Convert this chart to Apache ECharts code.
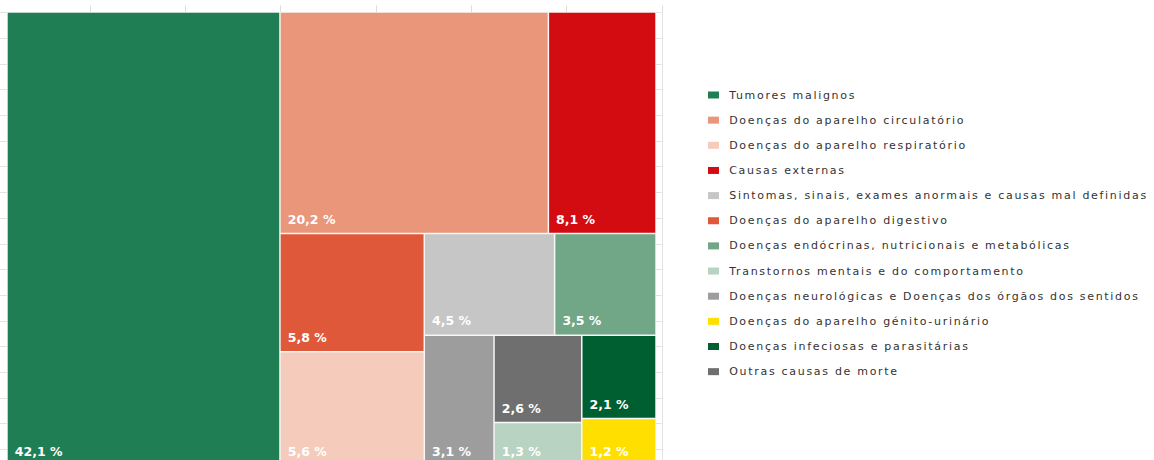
<!DOCTYPE html>
<html>
<head>
<meta charset="utf-8">
<script src="https://cdn.jsdelivr.net/npm/echarts@6/dist/echarts.min.js"></script>
<style>
html, body { margin: 0; padding: 0; background: #ffffff; }
#chart { width: 1154px; height: 460px; }
#chart text[fill="#333333"], #chart text[fill="#333"], #chart text[fill="rgb(51,51,51)"] { letter-spacing: 1.7px; }
</style>
</head>
<body>
<div id="chart"></div>
<script>
// Legend order
const categories = [
  'Tumores malignos',
  'Doenças do aparelho circulatório',
  'Doenças do aparelho respiratório',
  'Causas externas',
  'Sintomas, sinais, exames anormais e causas mal definidas',
  'Doenças do aparelho digestivo',
  'Doenças endócrinas, nutricionais e metabólicas',
  'Transtornos mentais e do comportamento',
  'Doenças neurológicas e Doenças dos órgãos dos sentidos',
  'Doenças do aparelho génito-urinário',
  'Doenças infeciosas e parasitárias',
  'Outras causas de morte'
];
const values = [42.1, 20.2, 5.6, 8.1, 4.5, 5.8, 3.5, 1.3, 3.1, 1.2, 2.1, 2.6];
const colors = [
  '#207E55', '#E9967A', '#F5CBBB', '#D30C12', '#C6C6C6', '#DF583A',
  '#71A687', '#B8D3C2', '#9D9D9D', '#FFDF00', '#005F31', '#6F6F6F'
];
// order in which the blocks are fed to the treemap layout
const layoutOrder = [
  'Tumores malignos',
  'Doenças do aparelho circulatório',
  'Causas externas',
  'Doenças do aparelho digestivo',
  'Doenças do aparelho respiratório',
  'Sintomas, sinais, exames anormais e causas mal definidas',
  'Doenças endócrinas, nutricionais e metabólicas',
  'Doenças neurológicas e Doenças dos órgãos dos sentidos',
  'Outras causas de morte',
  'Transtornos mentais e do comportamento',
  'Doenças infeciosas e parasitárias',
  'Doenças do aparelho génito-urinário'
];

const chart = echarts.init(document.getElementById('chart'), null, { renderer: 'svg' });

const treeData = layoutOrder.map(function (name) {
  const i = categories.indexOf(name);
  return { name: name, value: values[i], itemStyle: { color: colors[i] } };
});

const legendSeries = categories.map(function (c, i) {
  return { type: 'scatter', name: c, data: [], itemStyle: { color: colors[i], opacity: 1 } };
});

chart.setOption({
  animation: false,
  grid: {
    left: -5.3, top: 12.5, width: 667.1, height: 462.6,
    containLabel: false, outerBoundsMode: 'none'
  },
  xAxis: {
    type: 'value', position: 'top', min: 0, max: 7, interval: 1,
    axisLine: { show: false },
    axisTick: { show: true, length: 7, lineStyle: { color: '#dcdcdc' } },
    axisLabel: { show: false },
    splitLine: { show: true, lineStyle: { color: '#e3e3e3', width: 1 } }
  },
  yAxis: {
    type: 'value', position: 'right', min: 0, max: 18, interval: 1, inverse: true,
    offset: 2,
    axisLine: { show: true, lineStyle: { color: '#d0d0d0', width: 2 } },
    axisTick: { show: false },
    axisLabel: { show: false },
    splitLine: { show: true, lineStyle: { color: '#e3e3e3', width: 1 } }
  },
  legend: {
    data: categories,
    orient: 'vertical',
    left: 703, top: 83,
    icon: 'rect', itemWidth: 11, itemHeight: 7, itemGap: 11.15,
    selectedMode: false,
    formatter: function (n) { return '\u00a0' + n; },
    textStyle: { fontFamily: 'DejaVu Sans', fontSize: 11, color: '#333333', lineHeight: 14 }
  },
  series: legendSeries.concat([{
    type: 'treemap',
    left: 7, top: 12, width: 649, height: 454,
    sort: false,
    squareRatio: 1,
    roam: false,
    nodeClick: false,
    breadcrumb: { show: false },
    animation: false,
    levels: [
      { itemStyle: { borderWidth: 0, gapWidth: 0 } },
      { itemStyle: { borderWidth: 0.75, borderColor: '#f5f5f5', gapWidth: 0 } }
    ],
    label: {
      show: true, position: 'insideBottomLeft', distance: 2, padding: 5,
      fontFamily: 'DejaVu Sans', fontWeight: 'bold', fontSize: 12.5, color: '#ffffff',
      formatter: function (p) { return p.value.toFixed(1).replace('.', ',') + ' %'; }
    },
    emphasis: { disabled: true },
    data: treeData
  }])
});
</script>
</body>
</html>
